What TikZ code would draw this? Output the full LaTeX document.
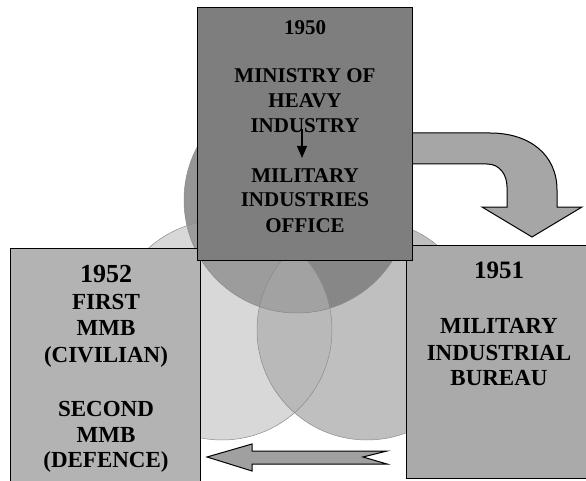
\documentclass[tikz,border=0pt]{standalone}
\usepackage{fontspec}
\setmainfont{Liberation Serif}
\usetikzlibrary{arrows.meta}
\definecolor{cLc}{HTML}{D8D8D8}
\definecolor{cRc}{HTML}{BFBFBF}
\definecolor{cTc}{HTML}{959595}
\definecolor{cLR}{HTML}{B9B9B9}
\definecolor{cTL}{HTML}{9C9C9C}
\definecolor{cTR}{HTML}{878787}
\definecolor{cC}{HTML}{A2A2A2}
\definecolor{boxT}{HTML}{7E7E7E}
\definecolor{boxL}{HTML}{B3B3B3}
\definecolor{boxR}{HTML}{AAAAAA}
\definecolor{arrC}{HTML}{A6A6A6}
\definecolor{arrB}{HTML}{A0A0A0}
\begin{document}
\begin{tikzpicture}[x=1pt,y=1pt]
\tikzset{
  boxstyle/.style={draw=black, line width=1.2pt, inner sep=0pt, anchor=north west},
  circline/.style={draw=black!45, line width=0.5pt},
  blockarrow/.style={draw=black, line width=1pt, line join=miter},
  ttxt/.style={anchor=base, inner sep=0pt, font=\bfseries\fontsize{21}{25}\selectfont},
  ltxt/.style={anchor=base, inner sep=0pt, font=\bfseries\fontsize{23}{27}\selectfont},
  lyear/.style={anchor=base, inner sep=0pt, font=\bfseries\fontsize{26}{30}\selectfont},
  ryear/.style={anchor=base, inner sep=0pt, font=\bfseries\fontsize{25}{30}\selectfont},
}
\useasboundingbox (0,0) rectangle (586,480);
\fill[white] (0,0) rectangle (586,480);
% Venn circles
\fill[cLc] (222,150) circle (110);
\fill[cRc] (367,150) circle (110);
\fill[cTc] (297,280) circle (113);
\begin{scope}\clip (222,150) circle (110); \fill[cLR] (367,150) circle (110); \end{scope}
\begin{scope}\clip (222,150) circle (110); \fill[cTL] (297,280) circle (113); \end{scope}
\begin{scope}\clip (367,150) circle (110); \fill[cTR] (297,280) circle (113); \end{scope}
\begin{scope}\clip (222,150) circle (110); \clip (367,150) circle (110); \fill[cC] (297,280) circle (113); \end{scope}
\draw[circline] (222,150) circle (110);
\draw[circline] (367,150) circle (110);
\draw[circline] (297,280) circle (113);
% side boxes
\node[boxstyle, fill=boxL, minimum width=190pt, minimum height=240pt] (lbox) at (10,232) {};
\node[boxstyle, fill=boxR, minimum width=186pt, minimum height=233pt] (rbox) at (406,235) {};
% curved block arrow
\draw[blockarrow, fill=arrC] (405,347) -- (490,347)
  .. controls (530,347) and (557,325) .. (557,290) -- (557,273) -- (582,273)
  -- (532,243) -- (482,273) -- (507,273) -- (507,293)
  .. controls (507,305) and (500,316) .. (487,316) -- (405,316) -- cycle;
% top box
\node[boxstyle, fill=boxT, minimum width=215pt, minimum height=253pt] (tbox) at (197,473) {};
% bottom block arrow
\draw[blockarrow, fill=arrB] (207,23) -- (252,36) -- (252,29) -- (387,29) -- (363,23)
  -- (387,16) -- (252,16) -- (252,9) -- cycle;
% top box text
\node[ttxt] (t1950) at (305,445) {1950};
\node[ttxt] (tmin) at (305,397) {MINISTRY OF};
\node[ttxt] (theavy) at (305,372) {HEAVY};
\node[ttxt] (tind) at (305,347) {INDUSTRY};
\node[ttxt] (tmil) at (305,298) {MILITARY};
\node[ttxt] (tinds) at (305,273) {INDUSTRIES};
\node[ttxt] (toff) at (305,248) {OFFICE};
\draw[line width=1.1pt, -{Triangle[width=10pt,length=12pt]}] ([xshift=-3pt,yshift=4pt]tind.base) -- ([xshift=-3pt,yshift=10pt]tmil.north);
% left box text
\node[lyear] (l1952) at (106,198) {1952};
\node[ltxt] (lfirst) at (106,171) {FIRST};
\node[ltxt] (lmmb1) at (106,144.5) {MMB};
\node[ltxt] (lciv) at (106,118) {(CIVILIAN)};
\node[ltxt] (lsec) at (106,64) {SECOND};
\node[ltxt] (lmmb2) at (106,38) {MMB};
\node[ltxt] (ldef) at (106,13) {(DEFENCE)};
% right box text
\node[ryear] (r1951) at (499,202) {1951};
\node[ltxt] (rmil) at (499,147) {MILITARY};
\node[ltxt] (rind) at (499,120) {INDUSTRIAL};
\node[ltxt] (rbur) at (499,95) {BUREAU};
\end{tikzpicture}
\end{document}
